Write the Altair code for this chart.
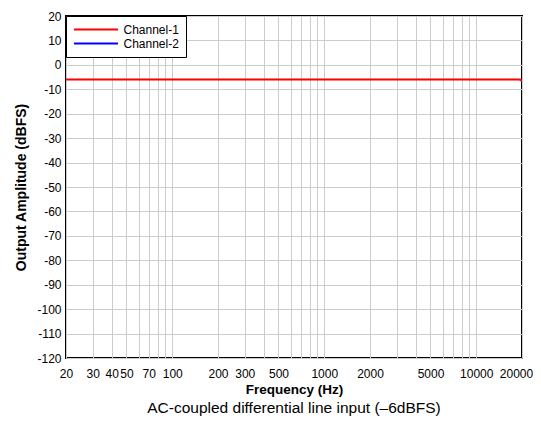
import altair as alt
import pandas as pd

# ---- data ----
freq = [20, 25, 30, 40, 50, 70, 100, 200, 300, 500, 1000, 2000, 3000, 5000, 7000, 10000, 15000, 19000, 19600, 20000]
ch1 = [-6.0, -6.0, -6.0, -6.0, -6.0, -6.0, -6.0, -6.0, -6.0, -6.0, -6.0, -6.0, -6.0, -6.0, -6.0, -6.0, -6.0, -6.0, -6.05, -6.8]
ch2 = [-6.0, -6.0, -6.0, -6.0, -6.0, -6.0, -6.0, -6.0, -6.0, -6.0, -6.0, -6.0, -6.0, -6.0, -6.0, -6.0, -6.0, -6.0, -6.05, -6.8]
series_names = ["Channel-1", "Channel-2"]
series_colors = ["#ff0000", "#0000ff"]

x_grid = [20, 30, 40, 50, 60, 70, 80, 90, 100, 200, 300, 400, 500, 600, 700, 800, 900,
          1000, 2000, 3000, 4000, 5000, 6000, 7000, 8000, 9000, 10000, 20000]
x_labels = [20, 30, 40, 50, 70, 100, 200, 300, 500, 1000, 2000, 5000, 10000, 20000]
y_ticks = [20, 10, 0, -10, -20, -30, -40, -50, -60, -70, -80, -90, -100, -110, -120]

df1 = pd.DataFrame({"freq": freq, "amp": ch1, "series": series_names[0]})
df2 = pd.DataFrame({"freq": freq, "amp": ch2, "series": series_names[1]})

FONT = "Liberation Sans"
label_set = ",".join(str(v) for v in x_labels)
label_expr = f"indexof([{label_set}], datum.value) >= 0 ? datum.value + '' : ''"

x_enc = alt.X("freq:Q",
              scale=alt.Scale(type="log", domain=[20, 20000], nice=False),
              axis=alt.Axis(values=x_grid, labelExpr=label_expr, title="Frequency (Hz)",
                            labelFlush=False, labelOverlap=False, ticks=False,
                            labelOffset={"condition": {"test": "datum.value >= 20000", "value": -6},
                                         "value": 0},
                            labelPadding=10, titlePadding=3, titleFontSize=13.5))
y_enc = alt.Y("amp:Q",
              scale=alt.Scale(domain=[-120, 20], nice=False),
              axis=alt.Axis(values=y_ticks, labelExpr="datum.value + ''",
                            title="Output Amplitude (dBFS)",
                            ticks=False, labelPadding=5, titlePadding=8, titleFontSize=14))
color_scale = alt.Scale(domain=series_names, range=series_colors)
legend = alt.Legend(title=None, orient="none", legendX=0, legendY=0,
                    symbolType="M-4,0H4", symbolSize=121,
                    symbolOffset=16.5, symbolStrokeWidth=2,
                    labelFontSize=12, labelFont=FONT, labelColor="black",
                    strokeColor="black", fillColor="white",
                    padding=7, rowPadding=1, labelOffset=21)

line2 = alt.Chart(df2).mark_line(strokeWidth=1.2, clip=True).encode(
    x=x_enc, y=y_enc,
    color=alt.Color("series:N", scale=color_scale, legend=legend),
)
line1 = alt.Chart(df1).mark_line(strokeWidth=2, clip=True).encode(
    x=x_enc, y=y_enc,
    color=alt.Color("series:N", scale=color_scale, legend=legend),
)

chart = alt.layer(line2, line1).properties(
    width=456,
    height=342,
    title=alt.TitleParams("AC-coupled differential line input (\u20136dBFS)", orient="bottom",
                          fontSize=15.5, fontWeight="normal", font=FONT, offset=5,
                          color="black"),
).configure_view(
    stroke="black", strokeWidth=2
).configure_axis(
    grid=True, gridColor="#cccccc", gridWidth=1, domain=False,
    labelFont=FONT, labelFontSize=12, labelColor="black",
    titleFont=FONT, titleFontWeight="bold", titleColor="black"
).properties(
    autosize=alt.AutoSizeParams(type="none"),
    padding={"left": 58, "top": 8, "right": 11, "bottom": 67}
)

chart.save("out.html", embed_options={"renderer": "svg", "actions": False})
